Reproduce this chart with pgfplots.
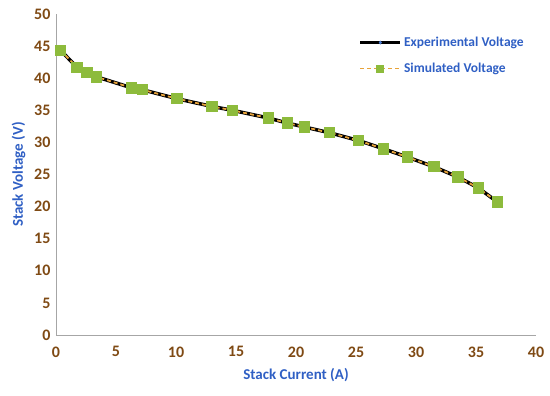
\documentclass[border=0pt]{standalone}
\usepackage{pgfplots}
\pgfplotsset{compat=1.18}
\usepackage{fontspec}
\setmainfont{Carlito}
\definecolor{tickbrown}{HTML}{7F4A14}
\definecolor{labblue}{HTML}{2F5FC4}
\definecolor{simorange}{HTML}{E8A33A}
\definecolor{simgreen}{HTML}{8DBB3C}
\definecolor{expblue}{HTML}{4A7BD0}
\begin{document}
\begin{tikzpicture}[x=1pt,y=1pt]
\begin{axis}[
  scale only axis,
  width=480pt, height=321pt,
  xmin=0, xmax=40, ymin=0, ymax=50,
  xtick={0,5,...,40}, ytick={0,5,...,50},
  axis x line*=bottom, axis y line*=left,
  axis line style={gray!70, line width=0.8pt, -},
  tick style={draw=none},
  /pgf/number format/assume math mode=true,
  ticklabel style={font=\bfseries\fontsize{16}{18}\selectfont, text=tickbrown},
  xticklabel style={yshift=-8pt},
  yticklabel style={xshift=-2pt},
  xlabel={Stack Current (A)}, ylabel={Stack Voltage (V)},
  label style={font=\bfseries\fontsize{15}{17}\selectfont, text=labblue},
  xlabel style={yshift=-4pt},
  ylabel style={yshift=2pt},
  legend style={draw=none, fill=none, at={(0.63,0.935)}, anchor=north west,
    font=\bfseries\fontsize{13.5}{15}\selectfont, text=labblue, row sep=11pt,
    inner sep=0pt},
  legend cell align=left,
  legend image code/.code={
    \draw[mark repeat=2,mark phase=2,#1, every mark/.append style={scale=0.65}] plot coordinates {(0pt,0pt) (20pt,0pt) (40pt,0pt)};
  },
]
\addplot[black, line width=3.5pt, mark=diamond*, mark size=2.5pt, mark options={draw=expblue, fill=expblue, line width=0.5pt}]
coordinates {
(0.4,44.3)(1.75,41.7)(2.6,40.9)(3.4,40.2)(6.3,38.5)(7.2,38.2)(10.1,36.8)(13.0,35.6)(14.7,35.0)(17.7,33.8)(19.3,33.0)(20.7,32.4)(22.8,31.5)(25.2,30.3)(27.3,29.0)(29.3,27.7)(31.5,26.2)(33.5,24.6)(35.2,22.9)(36.8,20.7)};
\addlegendentry{Experimental Voltage}
\addplot[simorange, line width=1.8pt, dash pattern=on 4pt off 3pt, mark=square*, mark size=4.8pt, mark options={solid, draw=simgreen, fill=simgreen}]
coordinates {
(0.4,44.3)(1.75,41.7)(2.6,40.9)(3.4,40.2)(6.3,38.5)(7.2,38.2)(10.1,36.8)(13.0,35.6)(14.7,35.0)(17.7,33.8)(19.3,33.0)(20.7,32.4)(22.8,31.5)(25.2,30.3)(27.3,29.0)(29.3,27.7)(31.5,26.2)(33.5,24.6)(35.2,22.9)(36.8,20.7)};
\addlegendentry{Simulated Voltage}
\end{axis}
\path (current axis.south west) ++(-56pt,-61pt) rectangle ++(550pt,396pt);
\end{tikzpicture}
\end{document}
